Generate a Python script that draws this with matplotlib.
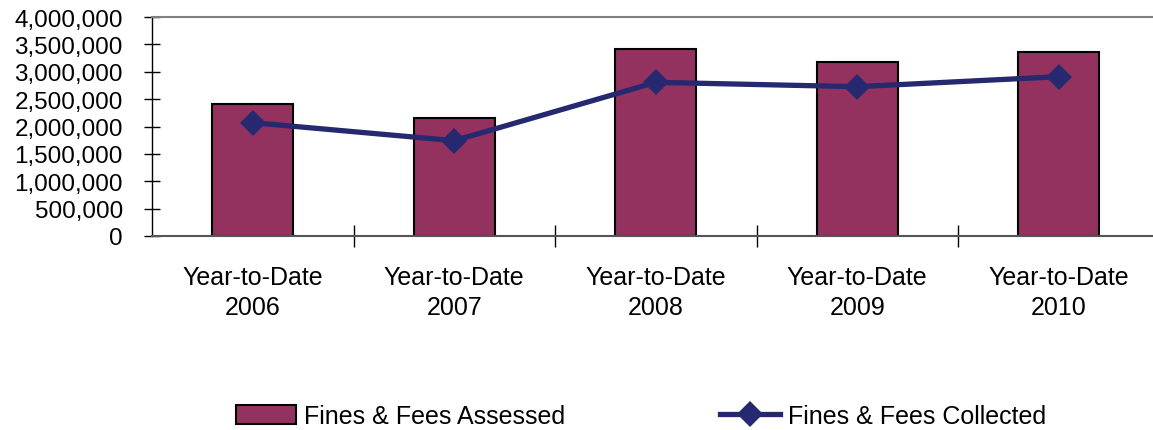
import matplotlib
matplotlib.use("Agg")
import matplotlib.pyplot as plt
from matplotlib.ticker import FuncFormatter

categories = ["Year-to-Date\n2006", "Year-to-Date\n2007", "Year-to-Date\n2008",
              "Year-to-Date\n2009", "Year-to-Date\n2010"]
assessed = [2405000, 2155000, 3421000, 3172000, 3355000]
collected = [2070000, 1741000, 2807000, 2727000, 2910000]
yticks = [0, 500000, 1000000, 1500000, 2000000, 2500000, 3000000, 3500000, 4000000]

plt.rcParams['font.family'] = ['Liberation Sans', 'DejaVu Sans']
FS = 18

fig = plt.figure(figsize=(11.53, 4.31), dpi=100)
ax = fig.add_axes([152/1153, 1-237/431, (1159.5-152)/1153, 219/431])

x = list(range(len(categories)))
bars = ax.bar(x, assessed, width=0.4, color='#93325E', edgecolor='black', linewidth=1.5,
              label='Fines & Fees Assessed', zorder=2)
line, = ax.plot(x, collected, color='#262870', linewidth=3.8, marker='D', markersize=13,
                markeredgewidth=0, label='Fines & Fees Collected', zorder=3)

ax.set_xlim(-0.5, len(categories) - 0.5)
ax.set_ylim(0, 4000000)
ax.set_yticks(yticks)
ax.yaxis.set_major_formatter(FuncFormatter(lambda v, p: f"{int(v):,}"))
ax.set_xticks(x)
ax.set_xticklabels(categories, linespacing=1.3)
ax.tick_params(axis='x', length=0, pad=21, labelsize=FS)
ax.set_xticks([i + 0.5 for i in x[:-1]], minor=True)
ax.tick_params(axis='x', which='minor', direction='inout', length=16, width=1, color='black')
ax.tick_params(axis='y', direction='inout', length=12, width=1, pad=15, labelsize=17.5)

ax.spines['top'].set_color('#808080')
ax.spines['top'].set_linewidth(1.5)
ax.spines['right'].set_visible(False)
ax.spines['left'].set_color('black')
ax.spines['left'].set_linewidth(1)
ax.spines['bottom'].set_color('#555555')
ax.spines['bottom'].set_linewidth(1.5)

fig.legend([bars, line], ['Fines & Fees Assessed', 'Fines & Fees Collected'],
           loc='center', bbox_to_anchor=(641/1153, 1-417/431), ncol=2,
           frameon=False, fontsize=FS, handlelength=2.4, handleheight=0.8,
           handletextpad=0.3, columnspacing=6.2)

fig.savefig("out.png", dpi=100)
